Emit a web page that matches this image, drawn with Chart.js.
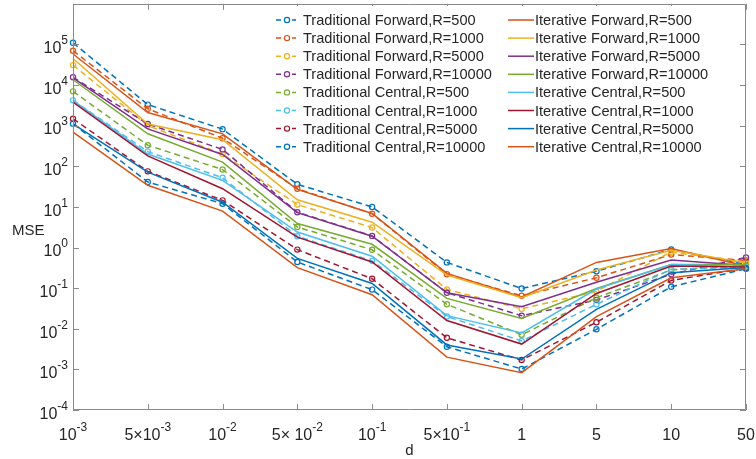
<!DOCTYPE html>
<html>
<head>
<meta charset="utf-8">
<script src="https://cdn.jsdelivr.net/npm/chart.js@4.4.0/dist/chart.umd.min.js"></script>
<style>
html,body{margin:0;padding:0;background:#fff;}
canvas{display:block;}
</style>
</head>
<body>
<canvas id="c" width="756" height="459"></canvas>
<script>
// ---------- data ----------
const categories = ['1e-3','5e-3','1e-2','5e-2','1e-1','5e-1','1','5','10','50'];
const xTickBase = ['10','5\u00D710','10','5\u00D7 10','10','5\u00D710','1','5','10','50'];
const xTickExp  = ['-3','-3','-2','-2','-1','-1','','','',''];
const yTickValues = [1e-4,1e-3,1e-2,1e-1,1e0,1e1,1e2,1e3,1e4,1e5];

const seriesNames = [
  'Traditional Forward,R=500','Traditional Forward,R=1000','Traditional Forward,R=5000','Traditional Forward,R=10000',
  'Traditional Central,R=500','Traditional Central,R=1000','Traditional Central,R=5000','Traditional Central,R=10000',
  'Iterative Forward,R=500','Iterative Forward,R=1000','Iterative Forward,R=5000','Iterative Forward,R=10000',
  'Iterative Central,R=500','Iterative Central,R=1000','Iterative Central,R=5000','Iterative Central,R=10000'
];

const tradForward500   = [1.1e5, 3.3e3, 8.2e2, 36, 10, 0.43, 0.098, 0.26, 0.90, 0.38];
const tradForward1000  = [7.0e4, 2.6e3, 4.9e2, 28, 6.8, 0.22, 0.065, 0.18, 0.67, 0.48];
const tradForward5000  = [3.1e4, 1.0e3, 2.0e2, 11.4, 3.1, 0.093, 0.031, 0.083, 0.78, 0.42];
const tradForward10000 = [1.55e4, 1.1e3, 2.6e2, 7.4, 1.93, 0.077, 0.021, 0.051, 0.22, 0.57];
const tradCentral500   = [7.0e3, 3.3e2, 83, 3.2, 0.88, 0.040, 0.0071, 0.058, 0.28, 0.36];
const tradCentral1000  = [4.2e3, 2.3e2, 52, 1.9, 0.47, 0.020, 0.0050, 0.040, 0.29, 0.33];
const tradCentral5000  = [1.48e3, 75, 14.5, 0.89, 0.17, 0.0060, 0.0017, 0.0145, 0.155, 0.31];
const tradCentral10000 = [1.12e3, 41, 12, 0.44, 0.092, 0.0036, 0.00102, 0.0097, 0.108, 0.30];

const iterForward500   = [5.8e4, 2.1e3, 6.3e2, 27, 6.9, 0.23, 0.061, 0.43, 0.94, 0.35];
const iterForward1000  = [4.5e4, 1.1e3, 4.5e2, 15, 4.2, 0.21, 0.058, 0.28, 0.86, 0.42];
const iterForward5000  = [1.5e4, 8.3e2, 1.95e2, 7.2, 1.9, 0.077, 0.035, 0.14, 0.49, 0.36];
const iterForward10000 = [1.35e4, 6.3e2, 1.27e2, 3.9, 1.2, 0.056, 0.018, 0.098, 0.38, 0.38];
const iterCentral500   = [4.2e3, 2.0e2, 45, 2.4, 0.61, 0.021, 0.0079, 0.095, 0.38, 0.34];
const iterCentral1000  = [3.8e3, 1.8e2, 28, 1.8, 0.44, 0.016, 0.0042, 0.074, 0.35, 0.33];
const iterCentral5000  = [1.1e3, 72, 13, 0.54, 0.13, 0.0040, 0.0018, 0.030, 0.24, 0.32];
const iterCentral10000 = [6.9e2, 34, 7.9, 0.32, 0.069, 0.0020, 0.00083, 0.020, 0.18, 0.30];

const seriesValues = [
  tradForward500, tradForward1000, tradForward5000, tradForward10000,
  tradCentral500, tradCentral1000, tradCentral5000, tradCentral10000,
  iterForward500, iterForward1000, iterForward5000, iterForward10000,
  iterCentral500, iterCentral1000, iterCentral5000, iterCentral10000
];

// ---------- styles ----------
const palette = ['#0072BD','#D95319','#EDB120','#7E2F8E','#77AC30','#4DBEEE','#A2142F'];
const FONT = "'Liberation Sans', Arial, Helvetica, sans-serif";
const axisColor = '#8a8a8a';
const textColor = '#262626';

const datasets = seriesValues.map((vals, i) => {
  const trad = i < 8;
  const color = palette[i % 7];
  return {
    label: seriesNames[i],
    data: vals,
    borderColor: color,
    backgroundColor: color,
    borderWidth: 1.5,
    borderDash: trad ? [6,4] : [],
    pointRadius: trad ? 2.6 : 0,
    pointHoverRadius: trad ? 2.6 : 0,
    pointStyle: 'circle',
    pointBorderWidth: 1.2,
    pointBorderColor: color,
    pointBackgroundColor: 'rgba(255,255,255,0)',
    tension: 0,
    fill: false,
    order: 16 - i
  };
});

function drawPow(ctx, base, exp, x, y, align, size) {
  ctx.font = size + 'px ' + FONT;
  const wb = ctx.measureText(base).width;
  const supSize = Math.round(size * 0.75);
  ctx.font = supSize + 'px ' + FONT;
  const we = exp ? ctx.measureText(exp).width : 0;
  const total = wb + we;
  let x0 = align === 'right' ? x - total : (align === 'center' ? x - total / 2 : x);
  ctx.textAlign = 'left';
  ctx.textBaseline = 'alphabetic';
  ctx.font = size + 'px ' + FONT;
  ctx.fillText(base, x0, y + size * 0.36);
  if (exp) {
    ctx.font = supSize + 'px ' + FONT;
    ctx.fillText(exp, x0 + wb, y - size * 0.2);
  }
}

const axesPlugin = {
  id: 'matlabAxes',
  afterDraw(chart) {
    const ctx = chart.ctx;
    const a = chart.chartArea;
    const xs = chart.scales.x, ys = chart.scales.y;
    ctx.save();
    ctx.strokeStyle = axisColor;
    ctx.lineWidth = 1;
    ctx.beginPath();
    ctx.rect(Math.round(a.left) + 0.5, Math.round(a.top) + 0.5, Math.round(a.right - a.left) - 1, Math.round(a.bottom - a.top) - 1);
    ctx.stroke();
    const tl = 6;
    ctx.beginPath();
    categories.forEach((c, i) => {
      const px = Math.round(xs.getPixelForValue(i)) + 0.5;
      ctx.moveTo(px, a.bottom); ctx.lineTo(px, a.bottom - tl);
      ctx.moveTo(px, a.top); ctx.lineTo(px, a.top + tl);
    });
    yTickValues.forEach(v => {
      const py = Math.round(ys.getPixelForValue(v)) + 0.5;
      ctx.moveTo(a.left, py); ctx.lineTo(a.left + tl, py);
      ctx.moveTo(a.right, py); ctx.lineTo(a.right - tl, py);
    });
    ctx.stroke();

    ctx.fillStyle = textColor;
    categories.forEach((c, i) => {
      const px = xs.getPixelForValue(i);
      drawPow(ctx, xTickBase[i], xTickExp[i], px, a.bottom + 24, 'center', 16);
    });
    yTickValues.forEach(v => {
      const py = ys.getPixelForValue(v);
      const e = Math.round(Math.log10(v));
      drawPow(ctx, '10', String(e), a.left - 5, py + 3, 'right', 16);
    });
    ctx.font = '15px ' + FONT;
    ctx.textAlign = 'center';
    ctx.textBaseline = 'middle';
    ctx.fillText('d', (a.left + a.right) / 2, a.bottom + 41);
    ctx.textAlign = 'left';
    ctx.fillText('MSE', 12, 231);
    ctx.restore();
  }
};

const legendPlugin = {
  id: 'matlabLegend',
  afterDraw(chart) {
    const ctx = chart.ctx;
    ctx.save();
    ctx.fillStyle = '#ffffff';
    ctx.fillRect(270, 6, 466, 151);
    const rowH = 18.1, y0 = 20;
    ctx.font = '14.6px ' + FONT;
    ctx.textBaseline = 'middle';
    ctx.textAlign = 'left';
    chart.data.datasets.forEach((ds, i) => {
      const col = i < 8 ? 0 : 1;
      const row = i % 8;
      const y = y0 + row * rowH;
      ctx.strokeStyle = ds.borderColor;
      ctx.lineWidth = 1.5;
      if (col === 0) {
        ctx.setLineDash([5,3]);
        ctx.beginPath(); ctx.moveTo(276, y); ctx.lineTo(296, y); ctx.stroke();
        ctx.setLineDash([]);
        ctx.lineWidth = 1.2;
        ctx.fillStyle = '#fff';
        ctx.beginPath(); ctx.arc(287, y, 2.6, 0, Math.PI * 2); ctx.fill(); ctx.stroke();
        ctx.fillStyle = textColor;
        ctx.fillText(ds.label, 303, y + 1);
      } else {
        ctx.setLineDash([]);
        ctx.beginPath(); ctx.moveTo(508, y); ctx.lineTo(534, y); ctx.stroke();
        ctx.fillStyle = textColor;
        ctx.fillText(ds.label, 535, y + 1);
      }
    });
    ctx.restore();
  }
};

new Chart(document.getElementById('c'), {
  type: 'line',
  data: { labels: categories, datasets: datasets },
  options: {
    responsive: false,
    devicePixelRatio: 1,
    animation: false,
    events: [],
    layout: { padding: { left: 73, right: 10, top: 3, bottom: 49 } },
    plugins: { legend: { display: false }, tooltip: { enabled: false }, title: { display: false } },
    scales: {
      x: {
        type: 'category',
        offset: false,
        grid: { display: false, drawTicks: false },
        border: { display: false },
        ticks: { display: false },
        afterFit: s => { s.height = 0; }
      },
      y: {
        type: 'logarithmic',
        min: 1e-4,
        max: 1e6,
        grid: { display: false, drawTicks: false },
        border: { display: false },
        ticks: { display: false },
        afterFit: s => { s.width = 0; }
      }
    }
  },
  plugins: [axesPlugin, legendPlugin]
});
</script>
</body>
</html>
